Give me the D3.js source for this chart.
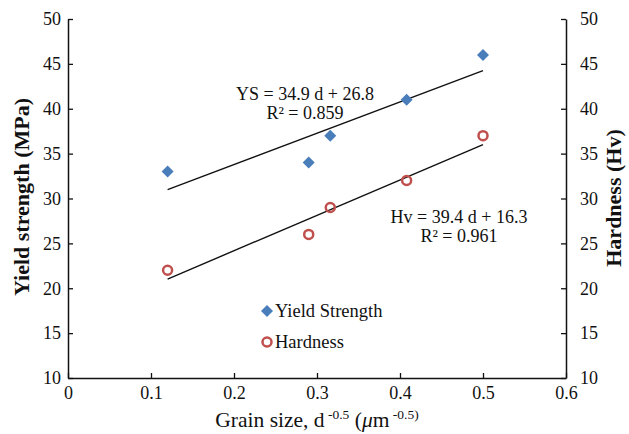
<!DOCTYPE html>
<meta charset="utf-8">
<script src="https://d3js.org/d3.v7.min.js"></script>
<style>
  body { margin: 0; background: #fff; }
  svg text { font-family: "Liberation Serif", "Times New Roman", serif; fill: #111; }
</style>
<div id="plot_div"></div>
<script>
    // grain size d^-0.5 for each sample
    var grain = [0.12, 0.29, 0.316, 0.408, 0.5];
    var yield_strength = [33, 34, 37, 41, 46];
    var hardness = [22, 26, 29, 32, 37];
    // linear fits printed on the chart
    var fit_slope = [34.9, 39.4];
    var fit_intercept = [26.8, 16.3];
    var fit_labels = [["YS = 34.9 d + 26.8", "R\u00B2 = 0.859"], ["Hv = 39.4 d + 16.3", "R\u00B2 = 0.961"]];
    var x_ticks = [0, 0.1, 0.2, 0.3, 0.4, 0.5, 0.6];
    var y_ticks = [10, 15, 20, 25, 30, 35, 40, 45, 50];
    var legend_names = ["Yield Strength", "Hardness"];

    var width = 629, height = 434;
    var margin = { top: 19, right: 63, bottom: 56, left: 68 };

    var svg = d3.select("#plot_div").append("svg")
        .attr("width", width)
        .attr("height", height);

    var x = d3.scaleLinear().domain([0, 0.6]).range([margin.left, width - margin.right]);
    var y = d3.scaleLinear().domain([10, 50]).range([height - margin.bottom, margin.top]);

    var blue = "#4a7ebb", red = "#c0504d";

    function style_axis(g) {
        g.select(".domain").attr("stroke", "#111").attr("stroke-width", 1.5);
        g.selectAll(".tick line").attr("stroke", "#111").attr("stroke-width", 1.3);
        g.selectAll(".tick text").style("font-size", "18px").attr("fill", "#111");
    }

    svg.append("g")
        .attr("transform", "translate(0," + y.range()[0] + ")")
        .call(d3.axisBottom(x).tickValues(x_ticks).tickSize(-5).tickSizeOuter(0).tickPadding(8).tickFormat(d3.format("")))
        .call(style_axis);

    svg.append("g")
        .attr("transform", "translate(" + x.range()[0] + ",0)")
        .call(d3.axisLeft(y).tickValues(y_ticks).tickSize(-5).tickSizeOuter(0).tickPadding(7))
        .call(style_axis);

    svg.append("g")
        .attr("transform", "translate(" + x.range()[1] + ",0)")
        .call(d3.axisRight(y).tickValues(y_ticks).tickSize(-5).tickSizeOuter(0).tickPadding(14))
        .call(style_axis);

    // trend lines over the measured range
    var x_ext = d3.extent(grain);
    var line = d3.line().x(function (d) { return x(d[0]); }).y(function (d) { return y(d[1]); });
    for (var i = 0; i < fit_slope.length; i++) {
        var pts = x_ext.map(function (v) { return [v, fit_slope[i] * v + fit_intercept[i]]; });
        svg.append("path").attr("d", line(pts))
            .attr("stroke", "#111").attr("stroke-width", 1.4).attr("fill", "none");
    }

    var diamond = d3.symbol().type(d3.symbolSquare).size(72);

    svg.selectAll(".ys").data(grain).enter().append("path")
        .attr("d", diamond)
        .attr("transform", function (d, i) { return "translate(" + x(d) + "," + y(yield_strength[i]) + ") rotate(45)"; })
        .attr("fill", blue);

    svg.selectAll(".hv").data(grain).enter().append("circle")
        .attr("cx", function (d) { return x(d); })
        .attr("cy", function (d, i) { return y(hardness[i]); })
        .attr("r", 4.5)
        .attr("fill", "none").attr("stroke", red).attr("stroke-width", 2.5);

    // equation labels
    var eq_pos = [[305, 100], [459, 223]];
    fit_labels.forEach(function (lab, i) {
        lab.forEach(function (t, j) {
            svg.append("text")
                .attr("x", eq_pos[i][0]).attr("y", eq_pos[i][1] + j * 19)
                .attr("text-anchor", "middle")
                .style("font-size", "18px")
                .text(t);
        });
    });

    // legend
    var leg = svg.append("g").attr("transform", "translate(267,311)");
    leg.append("path").attr("d", diamond).attr("transform", "rotate(45)").attr("fill", blue);
    leg.append("circle").attr("cx", 0).attr("cy", 31).attr("r", 4.5)
        .attr("fill", "none").attr("stroke", red).attr("stroke-width", 2.5);
    leg.selectAll(".lt").data(legend_names).enter().append("text")
        .attr("x", 8).attr("y", function (d, i) { return 6 + i * 31; })
        .style("font-size", "18.5px")
        .text(function (d) { return d; });

    // axis titles
    svg.append("text")
        .attr("transform", "translate(29,197) rotate(-90)")
        .attr("text-anchor", "middle")
        .style("font-size", "22px").style("font-weight", "bold")
        .text("Yield strength (MPa)");

    svg.append("text")
        .attr("transform", "translate(621,198) rotate(-90)")
        .attr("text-anchor", "middle")
        .style("font-size", "22px").style("font-weight", "bold")
        .text("Hardness (Hv)");

    var xt = svg.append("text")
        .attr("x", 317).attr("y", 427)
        .attr("text-anchor", "middle")
        .style("font-size", "21.5px");
    xt.append("tspan").text("Grain size, d");
    xt.append("tspan").attr("dy", -8).style("font-size", "13.5px").text(" -0.5");
    xt.append("tspan").attr("dy", 8).text(" (");
    xt.append("tspan").style("font-style", "italic").text("\u03BC");
    xt.append("tspan").text("m");
    xt.append("tspan").attr("dy", -8).style("font-size", "13.5px").text(" -0.5)");
</script>
